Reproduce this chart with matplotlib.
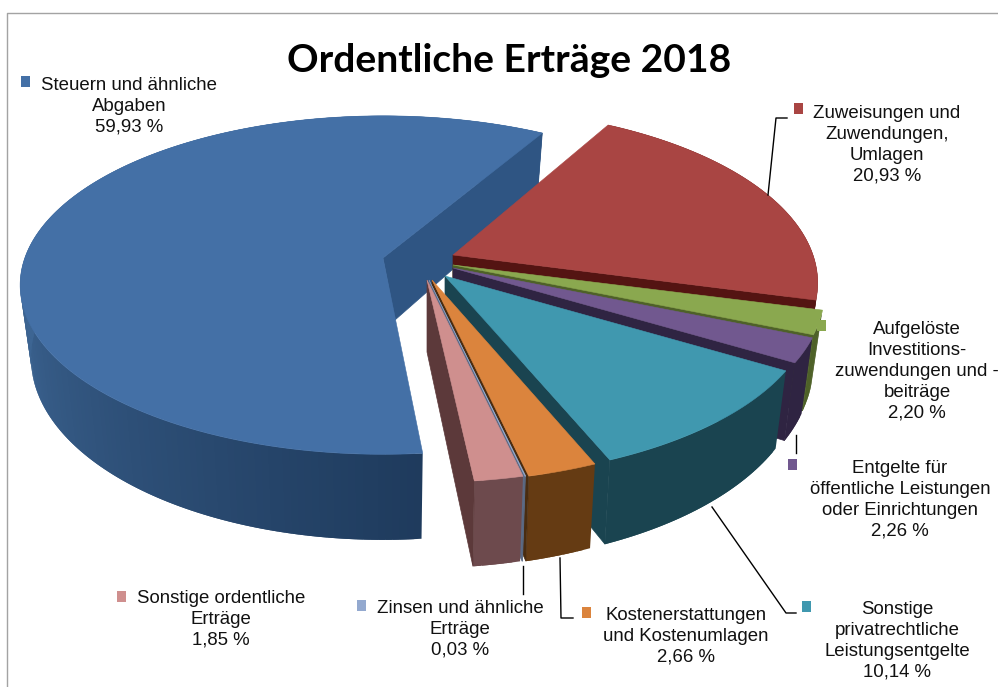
import numpy as np
import matplotlib
matplotlib.use('Agg')
import matplotlib.pyplot as plt
from matplotlib.colors import to_rgb
from matplotlib.patches import Polygon, Rectangle

# slices in drawing order, clockwise from the 12 o'clock side
categories = ['Steuern und ähnliche\nAbgaben',
              'Zuweisungen und\nZuwendungen,\nUmlagen',
              'Aufgelöste\nInvestitions-\nzuwendungen und -\nbeiträge',
              'Entgelte für\nöffentliche Leistungen\noder Einrichtungen',
              'Sonstige\nprivatrechtliche\nLeistungsentgelte',
              'Kostenerstattungen\nund Kostenumlagen',
              'Zinsen und ähnliche\nErträge',
              'Sonstige ordentliche\nErträge']
values = [59.93, 20.93, 2.20, 2.26, 10.14, 2.66, 0.03, 1.85]

top_colors = ['#4470a6', '#a94543', '#8aa84f', '#71588f', '#4098af', '#db843d', '#93a9cf', '#cf8f8e']
wall_left = ['#3d6593', '#5c1a18', '#4e6128', '#2f2442', '#1a4450', '#653b13', '#5b6a85', '#6d4a4d']
wall_right = ['#1e3a5c', '#5c1a18', '#4e6128', '#2f2442', '#1a4450', '#653b13', '#5b6a85', '#6d4a4d']
cut_colors = ['#2f5583', '#541412', '#4e6128', '#2f2442', '#1a4450', '#4a2c10', '#5b6a85', '#5c393a']

# apex of each exploded slice, in pixels
apex = [(383, 258), (453, 255), (453, 265), (453, 268), (445, 276), (432, 280), (429, 280), (427, 280)]
x_scale = [0.995, 1.0, 1.018, 1.015, 1.012, 1.0, 1.0, 1.0]
y_scale = [0.97, 1.0, 1.0, 1.0, 1.0, 1.0, 1.0, 1.0]
turn = [1.0, 0, 0, 0, 0, 0, 0, 0]

A, B, K = 360.0, 170.0, 0.16
D0, KD = 71.0, 0.17
START = 29.4


def to_screen(theta, a_scale=1.0, b_scale=1.0):
    # perspective view of the pie disc, relative to the apex
    u, v = np.sin(np.radians(theta)), np.cos(np.radians(theta))
    return A * a_scale * u / (1 + K * v), -B * b_scale * v / (1 + K * v)


def drop(theta):
    return D0 / (1 + KD * np.cos(np.radians(theta)))


def mix(c1, c2, t):
    c1, c2 = np.array(to_rgb(c1)), np.array(to_rgb(c2))
    return tuple(c1 + (c2 - c1) * t)


def draw_slice(ax, i, t0, t1):
    x0, y0 = apex[i]
    sx, sy = x_scale[i], y_scale[i]

    # outer wall, pieces overlap the next one so no seams show
    thetas = np.linspace(t0, t1, max(int((t1 - t0) / 1.0), 2) + 1)
    for a, b in zip(thetas[:-1], thetas[1:]):
        c = min(b + 1.0, t1)
        arc = np.linspace(a, c, 4)
        xa, ya = to_screen(arc, sx, sy)
        t = np.clip(1 - (a - 173) / 90, 0, 1) if i == 0 else 0.5
        col = mix(wall_left[i], wall_right[i], t)
        upper = np.column_stack([x0 + xa, y0 + ya])
        lower = np.column_stack([x0 + xa * 0.97, y0 + ya + drop(arc)])[::-1]
        ax.add_patch(Polygon(np.vstack([upper, lower]), closed=True, fc=col, ec='none'))

    # cut face at the end of the slice
    xe, ye = to_screen(t1, sx, sy)
    cut = [(x0, y0), (x0 + xe, y0 + ye), (x0 + xe * 0.97, y0 + ye + drop(t1)), (x0 + 12 * (i == 0), y0 + 62 + 10 * (i != 0))]
    ax.add_patch(Polygon(cut, closed=True, fc=cut_colors[i], ec=cut_colors[i], lw=0.5))

    # top face
    thetas = np.linspace(t0, t1, 200)
    xs, ys = to_screen(thetas, sx, sy)
    pts = np.column_stack([np.r_[x0, x0 + xs], np.r_[y0, y0 + ys]])
    ax.add_patch(Polygon(pts, closed=True, fc=top_colors[i], ec=top_colors[i], lw=0.4))


fig = plt.figure(figsize=(9.98, 6.87), dpi=100)
ax = fig.add_axes([0, 0, 1, 1])
ax.set_xlim(0, 998)
ax.set_ylim(687, 0)
ax.axis('off')

# chart frame
ax.plot([7, 7, 998], [687, 13, 13], color='#a3a3a3', lw=1.0)

# angles from the values; red comes first, blue closes the circle
spans = [v / sum(values) * 360 for v in values]
t = START
bounds = {}
for i in [1, 2, 3, 4, 5, 6, 7, 0]:
    bounds[i] = (t + turn[i], t + turn[i] + spans[i])
    t += spans[i]
for i in [0, 1, 2, 3, 4, 5, 6, 7]:
    draw_slice(ax, i, *bounds[i])

# leader lines
leaders = [([768, 776, 787], [195, 118, 118]),
           ([796, 796], [435, 453]),
           ([712, 786, 796], [507, 613, 613]),
           ([560, 561, 573], [558, 618, 618]),
           ([523, 523], [566, 594])]
for lx, ly in leaders:
    ax.plot(lx, ly, color='black', lw=1.0)

# label centre and first line, marker corner
label_pos = [(129, 84), (887, 112), (917, 328), (900, 467), (897, 608), (686, 614), (460, 607), (221, 597)]
marker_pos = [(21, 76), (794, 103), (817, 320), (788, 459), (802, 601), (582, 607), (357, 600), (117, 591)]

for i in range(len(values)):
    pct = f'{values[i]:.2f}'.replace('.', ',') + ' %'
    lx, ly = label_pos[i]
    ax.text(lx, ly - 7, categories[i] + '\n' + pct, ha='center', va='top', fontsize=13.4,
            family='Liberation Sans', linespacing=1.3, color='#111111')
    mx, my = marker_pos[i]
    ax.add_patch(Rectangle((mx, my), 9.5, 10.5, fc=top_colors[i], ec='none'))

ax.text(509, 60, 'Ordentliche Erträge 2018', ha='center', va='center', fontsize=28.1,
        fontweight='bold', family='Lato', color='black')

plt.savefig('out.png', dpi=100)
